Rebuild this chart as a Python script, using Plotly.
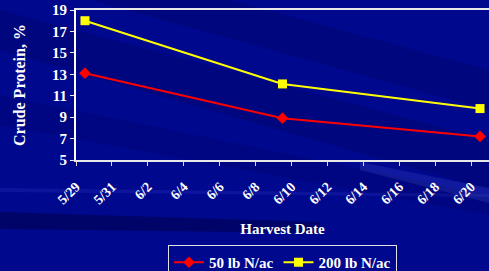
import plotly.graph_objects as go

# Data
harvest_dates = ["2007-05-29 12:00", "2007-06-09 12:00", "2007-06-20 12:00"]
n50 = [13.1, 8.9, 7.2]
n200 = [18.0, 12.1, 9.8]
series_names = ["50 lb N/ac", "200 lb N/ac"]

W, H = 489, 271
L, T, R, B = 76, 10, 0, 111  # margins -> plot area x 76..489, y 10..160
PW, PH = W - L - R, H - T - B


def px(x, y):
    return (x - L) / PW, (T + PH - y) / PH


def band(points, color):
    pts = [px(x, y) for x, y in points]
    path = "M " + " L ".join(f"{a:.4f},{b:.4f}" for a, b in pts) + " Z"
    return dict(type="path", xref="paper", yref="paper", path=path,
                fillcolor=color, line=dict(width=0), layer="below")


serif = "Liberation Serif"

fig = go.Figure()
fig.add_trace(go.Scatter(
    x=harvest_dates, y=n50, name=series_names[0], mode="lines+markers",
    line=dict(color="#ff0000", width=2),
    marker=dict(symbol="diamond", size=9, color="#ff0000"),
))
fig.add_trace(go.Scatter(
    x=harvest_dates, y=n200, name=series_names[1], mode="lines+markers",
    line=dict(color="#ffff00", width=2),
    marker=dict(symbol="square", size=9, color="#ffff00"),
))

shapes = [
    band([(0, 10), (0, 50), (489, 190), (489, 140)], "rgba(0,0,50,0.18)"),
    band([(90, 0), (230, 0), (489, 70), (489, 110)], "rgba(0,0,50,0.18)"),
    band([(0, 95), (0, 125), (489, 215), (489, 195)], "rgba(0,0,60,0.15)"),
    band([(0, 212), (0, 229), (320, 233), (320, 222)], "rgba(0,0,50,0.40)"),
    band([(360, 162), (489, 188), (489, 203), (360, 170)], "rgba(120,140,255,0.14)"),
    band([(0, 188), (0, 192), (489, 197), (489, 194)], "rgba(90,110,255,0.12)"),
]

fig.update_layout(
    width=W, height=H,
    margin=dict(l=L, r=R, t=T, b=B),
    paper_bgcolor="#00088e",
    plot_bgcolor="rgba(0,0,0,0)",
    font=dict(family=serif, color="white", size=15, weight="bold"),
    shapes=shapes,
    showlegend=True,
    legend=dict(
        orientation="h", x=0.5, xanchor="center",
        yref="container", y=(H - 245) / H, yanchor="top",
        bordercolor="#e0e0e0", borderwidth=1, bgcolor="rgba(0,0,0,0)",
        font=dict(family=serif, size=15, color="white", weight="bold"),
        itemwidth=30, tracegroupgap=0,
    ),
    xaxis=dict(
        type="date", automargin=False,
        range=["2007-05-29", "2007-06-21"],
        tick0="2007-05-29", dtick=2 * 86400000,
        tickformat="%-m/%-d", tickangle=-45,
        ticks="outside", ticklen=4, tickcolor="#d8d8d8",
        ticklabelstandoff=7,
        showline=True, linecolor="#e8e8e8", linewidth=2, mirror=True,
        showgrid=False, zeroline=False,
        tickfont=dict(family=serif, size=14, color="white", weight="bold"),
        title=dict(text="Harvest Date", standoff=17,
                   font=dict(family=serif, size=15, color="white", weight="bold")),
    ),
    yaxis=dict(
        range=[5, 19], dtick=2, tick0=5, automargin=False,
        ticks="outside", ticklen=4, tickcolor="#e8e8e8",
        showline=True, linecolor="#ffffff", linewidth=2,
        showgrid=False, zeroline=False,
        tickfont=dict(family=serif, size=15, color="white", weight="bold"),
        title=dict(text="Crude Protein, %", standoff=22,
                   font=dict(family=serif, size=16, color="white", weight="bold")),
    ),
)

fig.write_html(
    "out.html",
    config={"displayModeBar": False},
    post_script="document.body.style.margin='0px';document.body.style.overflow='hidden';",
)
